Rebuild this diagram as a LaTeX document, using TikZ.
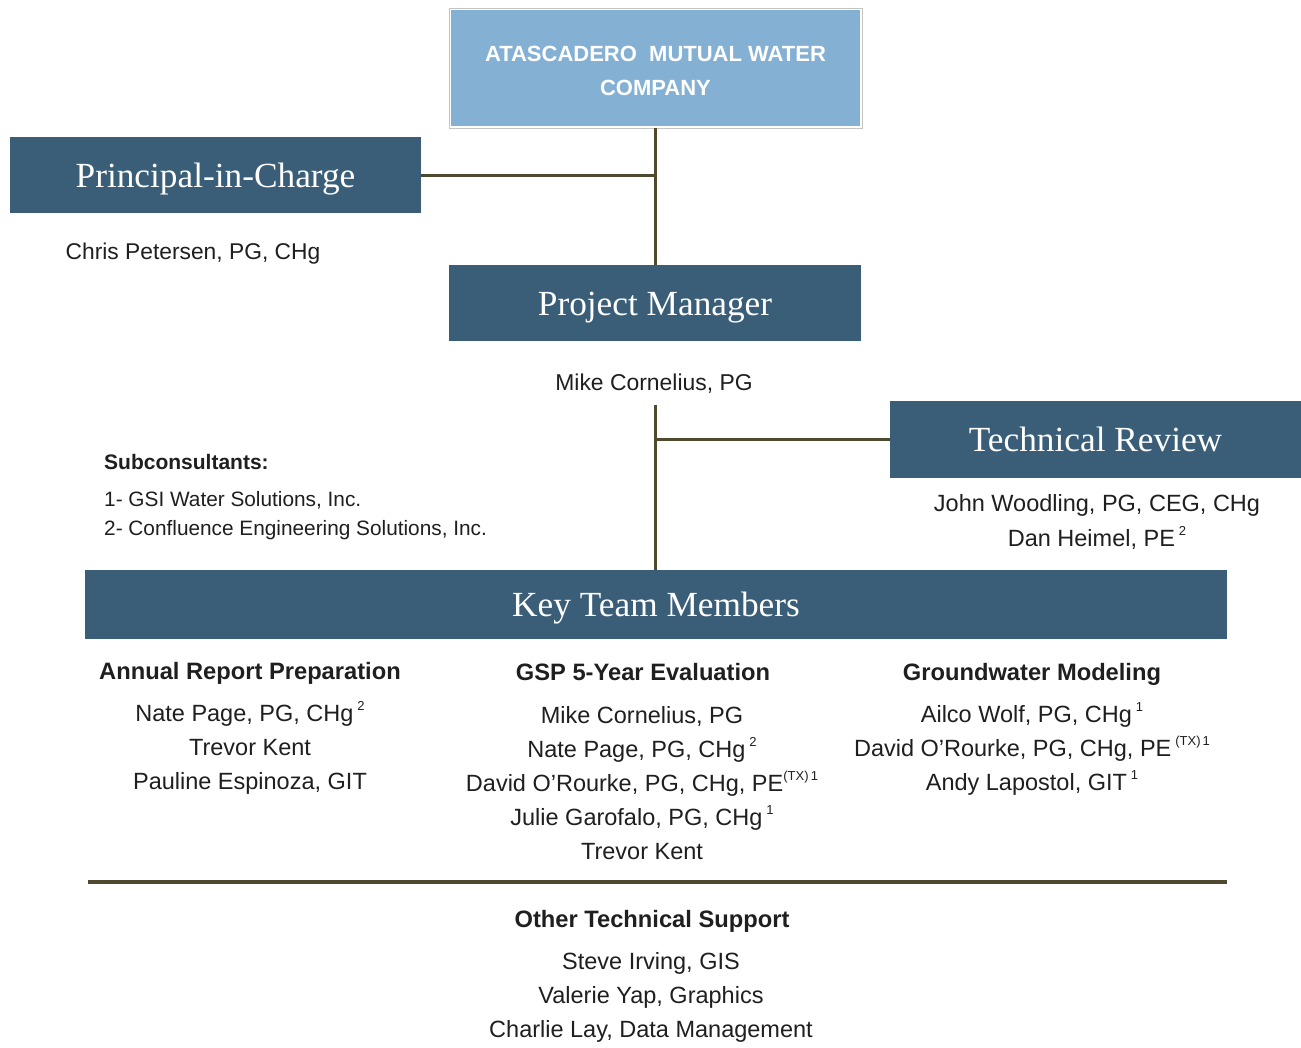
\documentclass[tikz,border=0pt]{standalone}
\usepackage{fontspec}
\setmainfont{Liberation Sans}
\newfontfamily\hdfont{Liberation Serif}
\definecolor{boxblue}{HTML}{3B5E78}
\definecolor{topblue}{HTML}{84B0D4}
\definecolor{linec}{HTML}{4F4930}
\definecolor{txt}{HTML}{1F1F1F}
\definecolor{framegray}{HTML}{C4C4C4}
\newcommand\supx[1]{\raisebox{0.45em}{\fontsize{13}{13}\selectfont #1}}
\tikzset{
  hdbox/.style={fill=boxblue, draw=none, text=white, inner sep=0pt,
    text height=24pt, text depth=0pt,
    font=\hdfont\fontsize{35.3}{40}\selectfont},
  topbox/.style={fill=topblue, draw=white, line width=2pt, inner sep=0pt,
    text=white, align=center, font=\bfseries\fontsize{22}{34}\selectfont},
  body/.style={text=txt, inner sep=0pt, align=center,
    font=\fontsize{23.5}{34}\selectfont},
  head/.style={text=txt, inner sep=0pt, font=\bfseries\fontsize{23.7}{28}\selectfont},
  conn/.style={draw=linec, line width=3pt},
  rulestyle/.style={draw=linec, line width=4pt},
}
\begin{document}
\begin{tikzpicture}[x=1pt,y=-1pt]
\fill[white] (0,0) rectangle (1301,1047);
\useasboundingbox (0,0) rectangle (1301,1047);

% top box
\node[topbox, minimum width=411pt, minimum height=118pt] (amwc) at (655.5,68)
  {\rule{0pt}{22pt}ATASCADERO\ \ MUTUAL WATER\\COMPANY};
\draw[framegray, line width=1pt] (amwc.north west) rectangle (amwc.south east);

% header boxes
\node[hdbox, minimum width=411pt, minimum height=76pt] (pic) at (215.5,175) {Principal-in-Charge};
\node[hdbox, minimum width=412pt, minimum height=76pt] (pm) at (655,303) {Project Manager};
\node[hdbox, minimum width=411pt, minimum height=77pt] (tr) at (1095.5,439.5) {Technical Review};
\node[hdbox, minimum width=1142pt, minimum height=69pt] (ktm) at (656,604.5) {Key Team Members};

% names under boxes
\node[body, font=\fontsize{22.8}{34}\selectfont] (chris) at (193,254) {Chris Petersen, PG, CHg};
\node[body, font=\fontsize{22.9}{34}\selectfont] (mike) at (654,384) {Mike Cornelius, PG};
\node[body, font=\fontsize{23.5}{35}\selectfont] (trN) at (1097,521.5)
  {John Woodling, PG, CEG, CHg\\Dan Heimel, PE\,\supx{2}};

% connectors
\coordinate (gap) at (655,405);
\draw[conn] (amwc.south) -- (amwc.south |- pm.north);
\draw[conn] (pic.east) -- (pic.east -| amwc.south);
\draw[conn] (gap) -- (gap |- ktm.north);
\draw[conn] (tr.west) -- (tr.west -| gap);

% subconsultants
\node[head, font=\bfseries\fontsize{21}{21}\selectfont, anchor=west] (subH) at (104,462) {Subconsultants:};
\node[body, font=\fontsize{20.8}{29}\selectfont, align=left, anchor=west] (subL) at (104,515.5)
  {1- GSI Water Solutions, Inc.\\2- Confluence Engineering Solutions, Inc.};

% team columns
\node[head] (arpH) at (250,673) {Annual Report Preparation};
\node[body] (arpN) at (250,748)
  {Nate Page, PG, CHg\,\supx{2}\\Trevor Kent\\Pauline Espinoza, GIT};

\node[head] (gspH) at (643,672.5) {GSP 5-Year Evaluation};
\node[body] (gspN) at (642,783)
  {Mike Cornelius, PG\\Nate Page, PG, CHg\,\supx{2}\\David O'Rourke, PG, CHg, PE\supx{(TX)\,1}\\Julie Garofalo, PG, CHg\,\supx{1}\\Trevor Kent};

\node[head] (gwmH) at (1032,674) {Groundwater Modeling};
\node[body] (gwmN) at (1032,749)
  {Ailco Wolf, PG, CHg\,\supx{1}\\David O'Rourke, PG, CHg, PE\,\supx{(TX)\,1}\\Andy Lapostol, GIT\,\supx{1}};

% rule and other support
\coordinate (rl) at (88,882);
\coordinate (rr) at (1227,882);
\draw[rulestyle] (rl) -- (rr);
\node[head] (otsH) at (652,921) {Other Technical Support};
\node[body] (otsN) at (651,997)
  {Steve Irving, GIS\\Valerie Yap, Graphics\\Charlie Lay, Data Management};
\end{tikzpicture}
\end{document}
